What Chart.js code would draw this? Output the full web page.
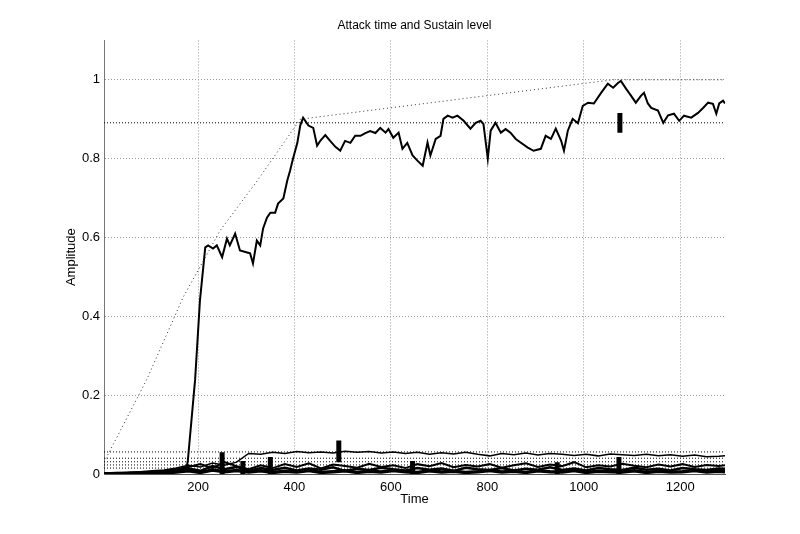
<!DOCTYPE html>
<html>
<head>
<meta charset="utf-8">
<script src="https://cdn.jsdelivr.net/npm/chart.js@4"></script>
<style>
  body { margin: 0; background: #fff; }
</style>
</head>
<body>
<canvas id="myChart" width="800" height="534"></canvas>
<script>
// tick labels
const xTicks = [200, 400, 600, 800, 1000, 1200]
const yTicks = [0, 0.2, 0.4, 0.6, 0.8, 1]

// main amplitude trace
const mainX = [5, 50, 100, 150, 175, 179, 194, 204, 215, 221, 231, 239, 250, 260, 266, 277, 287, 302, 308, 314, 322, 329, 335, 343, 350, 360, 366, 377, 385, 391, 397, 406, 412, 418, 429, 439, 447, 454, 464, 474, 485, 495, 505, 516, 526, 537, 547, 557, 568, 578, 589, 595, 605, 616, 624, 634, 645, 655, 666, 676, 682, 693, 703, 709, 718, 728, 738, 751, 765, 776, 786, 792, 801, 807, 817, 828, 838, 848, 859, 869, 884, 896, 911, 921, 932, 942, 953, 959, 967, 977, 988, 998, 1009, 1021, 1036, 1050, 1061, 1071, 1077, 1088, 1098, 1108, 1119, 1125, 1133, 1140, 1154, 1165, 1175, 1187, 1198, 1208, 1223, 1237, 1248, 1258, 1268, 1275, 1281, 1289, 1293]
const mainY = [0.002, 0.003, 0.004, 0.006, 0.008, 0.035, 0.24, 0.44, 0.575, 0.58, 0.572, 0.58, 0.55, 0.597, 0.58, 0.61, 0.567, 0.562, 0.56, 0.534, 0.592, 0.58, 0.623, 0.65, 0.663, 0.663, 0.686, 0.699, 0.744, 0.77, 0.8, 0.84, 0.884, 0.904, 0.884, 0.878, 0.833, 0.846, 0.86, 0.845, 0.83, 0.82, 0.845, 0.84, 0.858, 0.858, 0.865, 0.87, 0.865, 0.878, 0.866, 0.875, 0.853, 0.866, 0.825, 0.84, 0.808, 0.795, 0.782, 0.841, 0.808, 0.85, 0.858, 0.901, 0.909, 0.904, 0.909, 0.896, 0.876, 0.891, 0.896, 0.888, 0.8, 0.871, 0.891, 0.866, 0.875, 0.866, 0.85, 0.841, 0.828, 0.82, 0.825, 0.858, 0.85, 0.876, 0.846, 0.82, 0.871, 0.901, 0.89, 0.934, 0.942, 0.94, 0.967, 0.99, 0.98, 0.992, 0.997, 0.977, 0.96, 0.942, 0.96, 0.967, 0.94, 0.929, 0.922, 0.891, 0.91, 0.914, 0.896, 0.909, 0.904, 0.916, 0.929, 0.942, 0.939, 0.914, 0.94, 0.947, 0.94]

// attack / sustain envelope of the main trace
const envX = [5, 93, 169, 246, 323, 412, 1060, 1293]
const envY = [0.03, 0.238, 0.448, 0.618, 0.744, 0.9, 1.0, 1.0]
const sustainLevels = [0.891, 0.056, 0.04, 0.031, 0.023, 0.015]

// low-level traces
const lowX = [5, 30, 55, 80, 105, 130, 155, 180, 205, 230, 255, 280, 305, 330, 355, 380, 405, 430, 455, 480, 505, 530, 555, 580, 605, 630, 655, 680, 705, 730, 755, 780, 805, 830, 855, 880, 905, 930, 955, 980, 1005, 1030, 1055, 1080, 1105, 1130, 1155, 1180, 1205, 1230, 1255, 1280, 1293]
const lowA = [0.002, 0.003, 0.004, 0.006, 0.008, 0.01, 0.015, 0.022, 0.018, 0.028, 0.022, 0.03, 0.052, 0.05, 0.055, 0.052, 0.057, 0.054, 0.056, 0.053, 0.058, 0.055, 0.057, 0.053, 0.056, 0.052, 0.055, 0.05, 0.054, 0.051, 0.055, 0.05, 0.046, 0.052, 0.049, 0.053, 0.048, 0.052, 0.05, 0.047, 0.05, 0.046, 0.051, 0.049, 0.047, 0.05, 0.046, 0.049, 0.045, 0.048, 0.044, 0.045, 0.046]
const lowB = [0.001, 0.002, 0.003, 0.004, 0.006, 0.008, 0.012, 0.018, 0.025, 0.015, 0.03, 0.02, 0.012, 0.022, 0.015, 0.025, 0.018, 0.027, 0.014, 0.024, 0.02, 0.016, 0.026, 0.018, 0.022, 0.015, 0.025, 0.02, 0.028, 0.017, 0.023, 0.019, 0.025, 0.016, 0.022, 0.027, 0.018, 0.024, 0.02, 0.03, 0.017, 0.022, 0.019, 0.026, 0.021, 0.017, 0.024, 0.019, 0.025, 0.018, 0.023, 0.02, 0.022]
const lowC = [0.001, 0.001, 0.002, 0.003, 0.004, 0.006, 0.01, 0.014, 0.008, 0.02, 0.012, 0.018, 0.008, 0.015, 0.01, 0.016, 0.009, 0.014, 0.011, 0.017, 0.008, 0.013, 0.01, 0.016, 0.012, 0.009, 0.015, 0.011, 0.014, 0.008, 0.016, 0.012, 0.01, 0.015, 0.009, 0.013, 0.011, 0.017, 0.01, 0.014, 0.009, 0.015, 0.012, 0.01, 0.016, 0.011, 0.013, 0.009, 0.015, 0.012, 0.01, 0.014, 0.013]
const lowD = [0, 0.001, 0.001, 0.002, 0.002, 0.003, 0.005, 0.008, 0.004, 0.01, 0.006, 0.009, 0.005, 0.008, 0.004, 0.007, 0.005, 0.009, 0.004, 0.006, 0.008, 0.004, 0.007, 0.005, 0.009, 0.006, 0.004, 0.008, 0.005, 0.007, 0.004, 0.006, 0.009, 0.005, 0.007, 0.004, 0.008, 0.006, 0.005, 0.009, 0.004, 0.007, 0.006, 0.005, 0.008, 0.004, 0.007, 0.005, 0.006, 0.009, 0.005, 0.007, 0.006]

// attack markers: position, bottom, top
const markX = [250, 293, 350, 492, 645, 945, 1073, 1075]
const markLo = [0, 0, 0, 0.03, 0, 0, 0, 0.866]
const markHi = [0.055, 0.033, 0.043, 0.085, 0.033, 0.03, 0.043, 0.916]

const pts = (xs, ys) => xs.map((x, i) => ({ x: x, y: ys[i] }))

const datasets = []
sustainLevels.forEach(l => {
    datasets.push({ data: [{ x: 5, y: l }, { x: 1293, y: l }], borderColor: '#000', borderWidth: 1, borderDash: [1, 2] })
})
datasets.push({ data: pts(envX, envY), borderColor: '#333', borderWidth: 1, borderDash: [1, 3] })
datasets.push({ data: pts(lowX, lowD), borderColor: '#000', borderWidth: 3.5 })
datasets.push({ data: pts(lowX, lowC), borderColor: '#000', borderWidth: 2.5 })
datasets.push({ data: pts(lowX, lowB), borderColor: '#000', borderWidth: 2 })
datasets.push({ data: pts(lowX, lowA), borderColor: '#000', borderWidth: 1.5 })
datasets.push({ data: pts(mainX, mainY), borderColor: '#000', borderWidth: 2 })
markX.forEach((x, i) => {
    datasets.push({ data: [{ x: x, y: markLo[i] }, { x: x, y: markHi[i] }], borderColor: '#000', borderWidth: 5, borderCapStyle: 'butt' })
})

const font = { family: 'Liberation Sans, Arial, sans-serif', size: 13 }

new Chart(document.getElementById('myChart'), {
    type: 'line',
    data: { datasets: datasets },
    options: {
        responsive: false,
        animation: false,
        layout: { padding: { left: 0, right: 75, top: 0, bottom: 0 } },
        elements: { point: { radius: 0 }, line: { tension: 0 } },
        plugins: {
            legend: { display: false },
            tooltip: { enabled: false },
            title: {
                display: true,
                text: 'Attack time and Sustain level',
                color: '#000',
                fullSize: false,
                font: { family: font.family, size: 12, weight: 'normal' },
                padding: { top: 18, bottom: 8 }
            }
        },
        scales: {
            x: {
                type: 'linear',
                min: 5,
                max: 1293,
                afterFit: s => { s.height = 60 },
                afterBuildTicks: s => { s.ticks = xTicks.map(v => ({ value: v })) },
                grid: { color: '#999', drawTicks: false },
                border: { display: true, color: '#555', width: 1, dash: [1, 2] },
                ticks: { color: '#000', font: font, padding: 6, maxRotation: 0, callback: v => String(v) },
                title: { display: true, text: 'Time', color: '#000', font: font, padding: { top: 0, bottom: 27 } }
            },
            y: {
                min: 0,
                max: 1.1,
                afterFit: s => { s.width = 104 },
                afterBuildTicks: s => { s.ticks = yTicks.map(v => ({ value: v })) },
                grid: { color: '#999', drawTicks: false },
                border: { display: true, color: '#777', width: 1, dash: [1, 2] },
                ticks: { color: '#000', font: font, padding: 4, callback: v => String(v) },
                title: { display: true, text: 'Amplitude', color: '#000', font: font, padding: { top: 64, bottom: 0 } }
            }
        }
    }
})
</script>
</body>
</html>
